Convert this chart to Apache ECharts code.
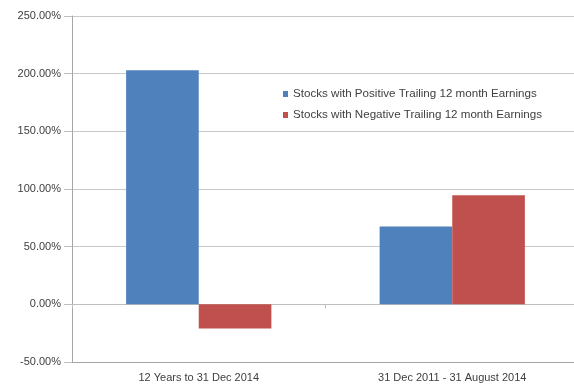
<!DOCTYPE html>
<html>
<head>
<meta charset="utf-8">
<script src="https://cdn.jsdelivr.net/npm/echarts@6/dist/echarts.min.js"></script>
<style>
  html, body { margin: 0; padding: 0; background: #fff; overflow: hidden; }
  #chart { width: 579px; height: 386px; }
</style>
</head>
<body>
<div id="chart"></div>
<script>
// Period labels along the horizontal axis
const periods = ['12 Years to 31 Dec 2014', '31 Dec 2011 - 31 August 2014'];
// Returns in percent for each group of stocks
const positiveEarnings = [203, 67.5];
const negativeEarnings = [-21, 94.5];
const seriesNames = [
  'Stocks with Positive Trailing 12 month Earnings',
  'Stocks with Negative Trailing 12 month Earnings'
];

const font = 'Liberation Sans, Arial, sans-serif';
const chart = echarts.init(document.getElementById('chart'), null, { renderer: 'canvas' });

chart.setOption({
  animation: false,
  backgroundColor: '#ffffff',
  grid: { left: 72, right: 0, top: 16, bottom: 24, containLabel: false },
  legend: {
    orient: 'vertical',
    left: 283,
    top: 88,
    padding: 0,
    itemWidth: 5,
    itemHeight: 6,
    itemGap: 9,
    icon: 'rect',
    data: seriesNames,
    textStyle: { fontFamily: font, fontSize: 11.6, color: '#404040' }
  },
  xAxis: [
    {
      type: 'category',
      data: periods,
      position: 'bottom',
      axisLine: { onZero: false, lineStyle: { color: '#a6a6a6' } },
      axisTick: { show: false },
      axisLabel: { fontFamily: font, fontSize: 11, color: '#404040', margin: 10 }
    },
    {
      type: 'category',
      data: periods,
      position: 'bottom',
      axisLine: { onZero: true, lineStyle: { color: '#bfbfbf' } },
      axisTick: { show: true, alignWithLabel: false, length: 4, lineStyle: { color: '#bfbfbf' } },
      axisLabel: { show: false }
    }
  ],
  yAxis: {
    type: 'value',
    min: -50,
    max: 250,
    interval: 50,
    axisLine: { show: true, lineStyle: { color: '#a6a6a6' } },
    axisTick: { show: true, length: 8, lineStyle: { color: '#bfbfbf' } },
    splitLine: { lineStyle: { color: '#c8c8c8' } },
    axisLabel: {
      fontFamily: font,
      fontSize: 11,
      color: '#404040',
      margin: 11,
      formatter: v => v.toFixed(2) + '%'
    }
  },
  series: [
    {
      name: seriesNames[0],
      type: 'bar',
      data: positiveEarnings,
      barGap: '0%',
      barCategoryGap: '42.7%',
      itemStyle: { color: '#4f81bd' }
    },
    {
      name: seriesNames[1],
      type: 'bar',
      data: negativeEarnings,
      barGap: '0%',
      barCategoryGap: '42.7%',
      itemStyle: { color: '#c0504d' }
    }
  ]
});
</script>
</body>
</html>
